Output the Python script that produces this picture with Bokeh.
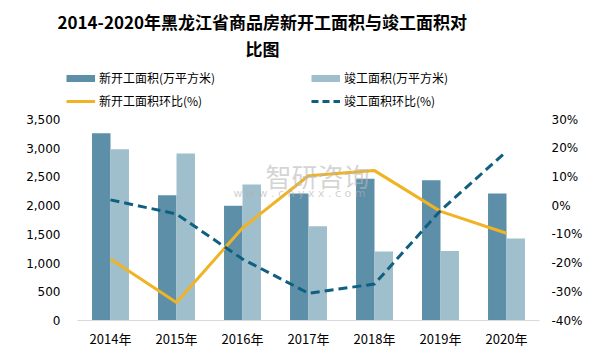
from bokeh.plotting import figure
from bokeh.models import (Range1d, LinearAxis, FixedTicker, NumeralTickFormatter,
                          PrintfTickFormatter, Legend, LegendItem, Label, Title,
                          ColumnDataSource)
from bokeh.transform import dodge
from bokeh.embed import file_html
from bokeh.resources import INLINE

years = ["2014年", "2015年", "2016年", "2017年", "2018年", "2019年", "2020年"]
new_area = [3260, 2180, 2000, 2210, 2470, 2440, 2210]
done_area = [2980, 2910, 2370, 1640, 1200, 1210, 1430]
new_ratio = [-18.6, -33.7, -7.8, 10.4, 12.2, -2.0, -9.6]
done_ratio = [2.0, -2.9, -18.6, -30.5, -27.3, -1.7, 18.9]
left_ticks = [0, 500, 1000, 1500, 2000, 2500, 3000, 3500]
right_ticks = [-40, -30, -20, -10, 0, 10, 20, 30]

title1 = "2014-2020年黑龙江省商品房新开工面积与竣工面积对"
title2 = "比图"
labels = ["新开工面积(万平方米)", "竣工面积(万平方米)", "新开工面积环比(%)", "竣工面积环比(%)"]

C_NEW = "#5e8fa8"
C_DONE = "#a0bfcd"
C_ORANGE = "#f0b323"
C_DASH = "#0e5f80"
CJK = "Noto Sans CJK SC"

# layout constants (pixels)
FRAME_TOP = 62         # frame top (titles sit above it)
AXIS_Y = 320           # x axis position from canvas top
AXIS_H = 201           # px spanned by the ticks 0..3500 / -40..30
CAT_W = 66             # px per category
LEFT_EXTRA = 11        # frame extends left of the first category (legend room)
L_MIN, L_MAX = 0, 3500
R_MIN, R_MAX = -40, 30

idx = list(range(len(years)))
FH = AXIS_Y - FRAME_TOP

src = ColumnDataSource(dict(x=idx, new=new_area, done=done_area,
                            nr=new_ratio, dr=done_ratio))

p = figure(width=606, height=364,
           x_range=Range1d(-0.5 - LEFT_EXTRA / CAT_W, len(years) - 0.5),
           y_range=Range1d(L_MIN, L_MIN + (L_MAX - L_MIN) * FH / AXIS_H),
           output_backend="svg", toolbar_location=None,
           min_border_left=66, min_border_right=67, min_border_top=FRAME_TOP,
           min_border_bottom=364 - AXIS_Y)
p.extra_y_ranges = {"pct": Range1d(R_MIN, R_MIN + (R_MAX - R_MIN) * FH / AXIS_H)}
p.outline_line_color = None
p.xgrid.visible = False
p.ygrid.visible = False
p.background_fill_color = "white"
p.border_fill_color = "white"

p.vbar(x=dodge("x", -0.14), top="new", width=0.28,
       source=src, fill_color=C_NEW, line_color=None)
p.vbar(x=dodge("x", 0.14), top="done", width=0.28,
       source=src, fill_color=C_DONE, line_color=None)
p.line(x="x", y="nr", source=src, y_range_name="pct",
       line_color=C_ORANGE, line_width=3)
p.line(x="x", y="dr", source=src, y_range_name="pct",
       line_color=C_DASH, line_width=3, line_dash="9 5")

# legend proxies (no visible data)
proxy = ColumnDataSource(dict(x=[0], y=[float("nan")]))
l1 = p.line(x="x", y="y", source=proxy, line_color=C_NEW, line_width=7)
l2 = p.line(x="x", y="y", source=proxy, line_color=C_DONE, line_width=7)
l3 = p.line(x="x", y="y", source=proxy, line_color=C_ORANGE, line_width=3)
l4 = p.line(x="x", y="y", source=proxy, line_color=C_DASH, line_width=3, line_dash="7 4")

legend = Legend(items=[LegendItem(label=labels[0], renderers=[l1]),
                       LegendItem(label=labels[2], renderers=[l3]),
                       LegendItem(label=labels[1], renderers=[l2]),
                       LegendItem(label=labels[3], renderers=[l4])],
                ncols=2, location=(0, AXIS_Y - 109), padding=0, margin=0,
                spacing=6, glyph_width=29, glyph_height=16, label_height=16,
                label_width=206, label_standoff=4,
                label_text_font=CJK, label_text_font_size="12px",
                label_text_color="#000000",
                border_line_color=None, background_fill_alpha=0)
p.add_layout(legend, "center")

# titles (stacked above the frame)
p.add_layout(Title(text=title2, align="left", offset=179, standoff=4,
                   text_font=CJK, text_font_size="17px", text_font_style="bold",
                   text_color="#000000"), "above")
p.add_layout(Title(text=title1, align="left", offset=-9, standoff=-5,
                   text_font=CJK, text_font_size="17px", text_font_style="bold",
                   text_color="#000000"), "above")

# axes
p.xaxis.ticker = FixedTicker(ticks=idx)
p.xaxis.major_label_overrides = {i: y for i, y in zip(idx, years)}
p.xaxis.bounds = (-0.5, len(years) - 0.5)
p.xaxis.axis_line_color = "#d9d9d9"
p.xaxis.axis_line_width = 1
p.xaxis.major_tick_line_color = None
p.xaxis.minor_tick_line_color = None
p.xaxis.major_tick_out = 0
p.xaxis.major_tick_in = 0
p.xaxis.major_label_standoff = 8
p.xaxis.major_label_text_font = CJK
p.xaxis.major_label_text_font_size = "13px"
p.xaxis.major_label_text_color = "#000000"

p.yaxis.ticker = FixedTicker(ticks=left_ticks)
p.yaxis.formatter = NumeralTickFormatter(format="0,0")
p.yaxis.axis_line_color = None
p.yaxis.major_tick_line_color = None
p.yaxis.minor_tick_line_color = None
p.yaxis.major_tick_out = 0
p.yaxis.major_tick_in = 0
p.yaxis.major_label_standoff = 6
p.yaxis.major_label_text_font = "DejaVu Sans"
p.yaxis.major_label_text_font_size = "12px"
p.yaxis.major_label_text_color = "#000000"

ax_r = LinearAxis(y_range_name="pct", ticker=FixedTicker(ticks=right_ticks),
                  formatter=PrintfTickFormatter(format="%d%%"))
ax_r.axis_line_color = None
ax_r.major_tick_line_color = None
ax_r.minor_tick_line_color = None
ax_r.major_tick_out = 0
ax_r.major_tick_in = 0
ax_r.major_label_standoff = 12
ax_r.major_label_text_font = "DejaVu Sans"
ax_r.major_label_text_font_size = "12px"
ax_r.major_label_text_color = "#000000"
p.add_layout(ax_r, "right")

# watermark
p.add_layout(Label(x=199, y=AXIS_Y - 175, x_units="screen", y_units="screen",
                   text="智研咨询", text_font=CJK, text_font_size="26px",
                   text_color="#b8b8b8", text_alpha=0.6, text_baseline="middle"))
p.add_layout(Label(x=167, y=AXIS_Y - 193, x_units="screen", y_units="screen",
                   text="w w w . c h y x x . c o m", text_font="DejaVu Sans",
                   text_font_size="11px", text_color="#b0b0b0", text_alpha=0.6,
                   text_baseline="middle"))

open("out.html", "w").write(file_html(p, INLINE))
